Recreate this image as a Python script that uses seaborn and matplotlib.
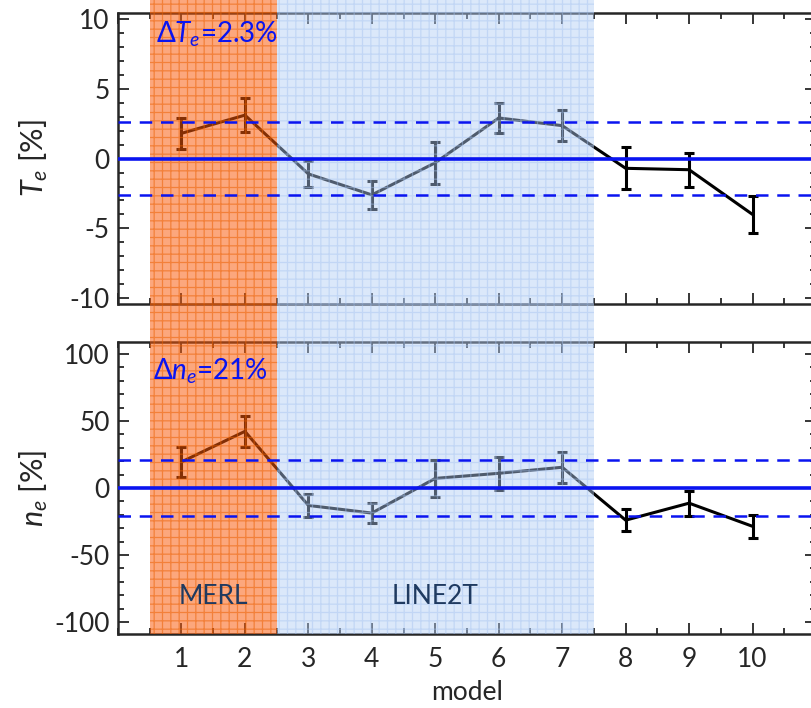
"""Relative deviation of T_e and n_e per model, with MERL / LINE2T bands."""

import matplotlib

matplotlib.use("Agg")
import matplotlib.pyplot as plt
from matplotlib.ticker import MultipleLocator
import seaborn as sns


MODELS = [1, 2, 3, 4, 5, 6, 7, 8, 9, 10]
TE_DEV = [1.8, 3.1, -1.1, -2.6, -0.3, 2.9, 2.35, -0.7, -0.8, -4.0]
TE_ERR = [1.1, 1.2, 0.9, 1.0, 1.5, 1.1, 1.1, 1.5, 1.2, 1.3]
NE_DEV = [19.5, 42.3, -13.0, -18.7, 7.2, 11.0, 15.5, -24.0, -11.3, -28.6]
NE_ERR = [11.4, 11.4, 8.4, 7.2, 13.7, 12.4, 11.6, 8.3, 9.3, 8.5]
TE_BAND = 2.6
NE_BAND = 21
TE_LABEL = r"$\Delta T_e$=2.3%"
NE_LABEL = r"$\Delta n_e$=21%"
GROUPS = [("MERL", 0.5, 2.5), ("LINE2T", 2.5, 7.5)]

BLUE = "#0A14F0"
NAVY = "#1F3A60"
# face colour, hatch colour, alpha
SHADES = {"MERL": ((250 / 255, 90 / 255, 10 / 255), (235 / 255, 95 / 255, 0.0), 0.53),
          "LINE2T": ((177 / 255, 204 / 255, 244 / 255),
                     (164 / 255, 194 / 255, 239 / 255), 0.45)}


def style_axis(ax, major, minor, lim):
    ax.set_xlim(0, 11)
    ax.set_ylim(*lim)
    ax.xaxis.set_major_locator(MultipleLocator(1))
    ax.xaxis.set_minor_locator(MultipleLocator(0.5))
    ax.yaxis.set_major_locator(MultipleLocator(major))
    ax.yaxis.set_minor_locator(MultipleLocator(minor))
    ax.tick_params(which="both", direction="in", top=True, right=True,
                   width=1.3, labelsize=19)
    ax.tick_params(which="major", length=8)
    ax.tick_params(which="minor", length=4)
    ax.tick_params(axis="x", pad=9)
    ax.tick_params(axis="y", pad=6)
    for sp in ax.spines.values():
        sp.set_linewidth(1.8)
        sp.set_visible(True)


def draw_panel(ax, y, err, band):
    ax.axhline(0, color=BLUE, lw=2.6, zorder=4)
    ax.axhline(band, color=BLUE, lw=1.8, ls=(0, (5, 3.5)), zorder=4)
    ax.axhline(-band, color=BLUE, lw=1.8, ls=(0, (5, 3.5)), zorder=4)
    sns.lineplot(x=MODELS, y=y, color="black", lw=2.2, ax=ax, zorder=2)
    ax.errorbar(MODELS, y, yerr=err, fmt="none", ecolor="black",
                elinewidth=2.2, capsize=3.5, capthick=2.2, zorder=2)


def shade(ax, ymax):
    for name, x0, x1 in GROUPS:
        fc, ec, a = SHADES[name]
        ax.axvspan(x0, x1, ymin=0, ymax=ymax, facecolor=fc, edgecolor=ec,
                   hatch="++", lw=0, alpha=a, clip_on=False, zorder=3)


def main():
    sns.set_theme(style="ticks")
    plt.rcParams["font.family"] = ["Lato", "DejaVu Sans"]
    plt.rcParams["mathtext.fontset"] = "custom"
    plt.rcParams["mathtext.rm"] = "Lato"
    plt.rcParams["mathtext.it"] = "Lato:italic"
    plt.rcParams["hatch.linewidth"] = 0.9
    plt.rcParams["axes.unicode_minus"] = False

    fig = plt.figure(figsize=(8.11, 7.08), dpi=100)
    ax1 = fig.add_axes([0.1455, 0.5706, 0.8607, 0.411])
    ax2 = fig.add_axes([0.1455, 0.1045, 0.8607, 0.4124])

    draw_panel(ax1, TE_DEV, TE_ERR, TE_BAND)
    draw_panel(ax2, NE_DEV, NE_ERR, NE_BAND)
    style_axis(ax1, 5, 1, (-10.4, 10.4))
    style_axis(ax2, 50, 10, (-109, 109))
    ax1.set_xticklabels([])
    ax2.set_xticks(MODELS)
    ax2.set_xticklabels([str(m) for m in MODELS])
    ax2.set_xlim(0, 11)

    shade(ax1, 1.045)
    shade(ax2, 1.13)

    ax1.set_ylabel(r"$T_e$ [%]", fontsize=22)
    ax2.set_ylabel(r"$n_e$ [%]", fontsize=22)
    ax1.yaxis.set_label_coords(-0.098, 0.5)
    ax2.yaxis.set_label_coords(-0.098, 0.5)
    ax2.set_xlabel("model", fontsize=19, labelpad=6)

    ax1.text(0.6, 8.3, TE_LABEL, color=BLUE, fontsize=20, zorder=5)
    ax2.text(0.55, 81, NE_LABEL, color=BLUE, fontsize=20, zorder=5)
    for name, x0, x1 in GROUPS:
        ax2.text((x0 + x1) / 2, -81, name, color=NAVY, fontsize=19,
                 ha="center", va="center", zorder=5)

    fig.savefig("out.png", dpi=100)
    plt.close(fig)


if __name__ == "__main__":
    main()
